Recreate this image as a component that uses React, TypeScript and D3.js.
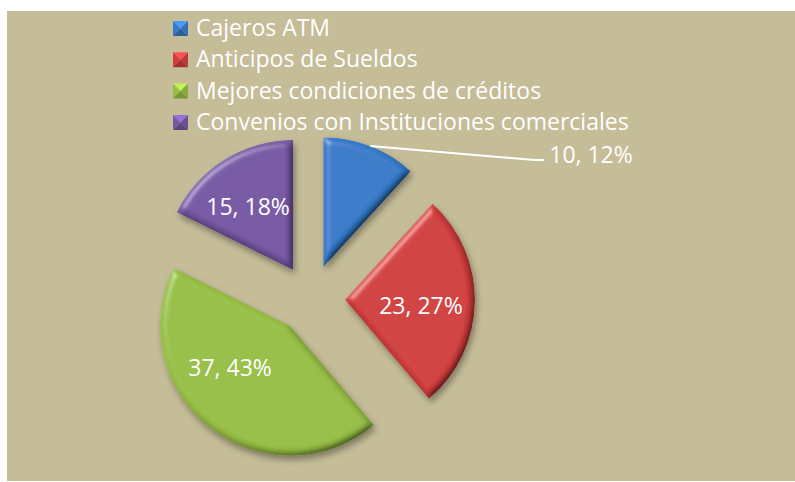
import { useMemo } from "react";
import * as d3 from "d3";

const WIDTH = 795;
const HEIGHT = 482;
const FONT = "'Open Sans', 'Noto Sans', sans-serif";
const FONT_SIZE = 23;

// chart data
const categories = [
  "Cajeros ATM",
  "Anticipos de Sueldos",
  "Mejores condiciones de créditos",
  "Convenios con Instituciones comerciales",
];
const values = [10, 23, 37, 15];
const percentLabels = ["12%", "27%", "43%", "18%"];
const colors = ["#357ac9", "#d23e3e", "#97bf45", "#7757a4"];

// layout
const CENTER = { x: 311, y: 299 };
const RADIUS = 130;
const EXPLODE = 34;
const LABEL_RADIUS = 76;
// small nudges so the inside labels sit where Excel put them
const labelNudge = [
  [0, 0],
  [0, 5],
  [-13, -18],
  [-5, 2],
];
const LEGEND = { x: 173, y: 21, size: 15, gap: 31.3, textX: 196 };

export default function App() {
  const slices = useMemo(
    () =>
      d3
        .pie<number>()
        .sort(null)
        .value((d) => d)(values),
    []
  );

  const arc = d3.arc<d3.PieArcDatum<number>>().innerRadius(0).outerRadius(RADIUS);

  const shapes = slices.map((s, i) => {
    const mid = (s.startAngle + s.endAngle) / 2;
    const dir = [Math.sin(mid), -Math.cos(mid)];
    const ox = CENTER.x + dir[0] * EXPLODE;
    const oy = CENTER.y + dir[1] * EXPLODE;
    return { s, i, mid, dir, ox, oy };
  });

  // outside label (first slice) with leader line
  const first = shapes[0];
  const leadStart = [first.ox + first.dir[0] * RADIUS, first.oy + first.dir[1] * RADIUS];
  const elbow = [leadStart[0] + 164, leadStart[1] + 14];
  const leadEnd = [elbow[0] + 10, elbow[1]];

  return (
    <div style={{ position: "absolute", left: 0, top: 0 }}>
      <svg width={WIDTH} height={HEIGHT} style={{ display: "block" }}>
        <defs>
          <filter id="bevel" x="-20%" y="-20%" width="140%" height="140%">
            <feGaussianBlur in="SourceAlpha" stdDeviation="3.5" result="blur" />
            <feDiffuseLighting in="blur" surfaceScale="4" diffuseConstant="1.25" lightingColor="#ffffff" result="diff">
              <feDistantLight azimuth="225" elevation="52" />
            </feDiffuseLighting>
            <feComposite in="SourceGraphic" in2="diff" operator="arithmetic" k1="1" k2="0" k3="0" k4="0" result="shaded" />
            <feSpecularLighting in="blur" surfaceScale="4" specularConstant="0.55" specularExponent="30" lightingColor="#ffffff" result="spec">
              <feDistantLight azimuth="225" elevation="40" />
            </feSpecularLighting>
            <feComposite in="spec" in2="SourceAlpha" operator="in" result="specIn" />
            <feComposite in="shaded" in2="specIn" operator="arithmetic" k1="0" k2="1" k3="0.45" k4="0" result="lit" />
            <feComposite in="lit" in2="SourceAlpha" operator="in" result="litIn" />
            <feGaussianBlur in="SourceAlpha" stdDeviation="3" result="sblur" />
            <feOffset in="sblur" dx="2" dy="4" result="soff" />
            <feFlood floodColor="#000" floodOpacity="0.35" />
            <feComposite in2="soff" operator="in" result="shadow" />
            <feMerge>
              <feMergeNode in="shadow" />
              <feMergeNode in="litIn" />
            </feMerge>
          </filter>
        </defs>

        <rect x={0} y={0} width={WIDTH} height={HEIGHT} fill="#ffffff" />
        <rect x={7} y={11} width={WIDTH - 7} height={470} fill="#c5bc98" />

        {/* legend */}
        {categories.map((c, i) => {
          const y = LEGEND.y + i * LEGEND.gap;
          const x = LEGEND.x;
          const sz = LEGEND.size;
          const cx = x + sz / 2;
          const cy = y + sz / 2;
          const base = d3.color(colors[i])!;
          const tri = (pts: number[][]) => pts.map((p) => p.join(",")).join(" ");
          return (
            <g key={c}>
              <polygon points={tri([[x, y], [x + sz, y], [cx, cy]])} fill={base.brighter(0.7).toString()} />
              <polygon points={tri([[x, y], [x, y + sz], [cx, cy]])} fill={base.toString()} />
              <polygon points={tri([[x + sz, y], [x + sz, y + sz], [cx, cy]])} fill={base.darker(0.3).toString()} />
              <polygon points={tri([[x, y + sz], [x + sz, y + sz], [cx, cy]])} fill={base.darker(0.7).toString()} />
              <text
                x={LEGEND.textX}
                y={y + sz}
                fontFamily={FONT}
                fontSize={FONT_SIZE}
                fill="#ffffff"
              >
                {c}
              </text>
            </g>
          );
        })}

        {/* slices */}
        {shapes.map(({ s, i, ox, oy }) => (
          <path
            key={categories[i]}
            d={arc(s) || ""}
            transform={`translate(${ox},${oy})`}
            fill={colors[i]}
            filter="url(#bevel)"
          />
        ))}

        {/* leader line for the outside label */}
        <polyline
          points={[leadStart, elbow, leadEnd].map((p) => p.join(",")).join(" ")}
          fill="none"
          stroke="#ffffff"
          strokeWidth={2}
        />
        <text
          x={leadEnd[0] + 5}
          y={leadEnd[1] + 3}
          fontFamily={FONT}
          fontSize={FONT_SIZE}
          fill="#ffffff"
        >
          {`${values[0]}, ${percentLabels[0]}`}
        </text>

        {/* inside labels */}
        {shapes.slice(1).map(({ i, dir, ox, oy }) => (
          <text
            key={categories[i]}
            x={ox + dir[0] * LABEL_RADIUS + labelNudge[i][0]}
            y={oy + dir[1] * LABEL_RADIUS + 8 + labelNudge[i][1]}
            textAnchor="middle"
            fontFamily={FONT}
            fontSize={FONT_SIZE}
            fill="#ffffff"
          >
            {`${values[i]}, ${percentLabels[i]}`}
          </text>
        ))}
      </svg>
    </div>
  );
}
